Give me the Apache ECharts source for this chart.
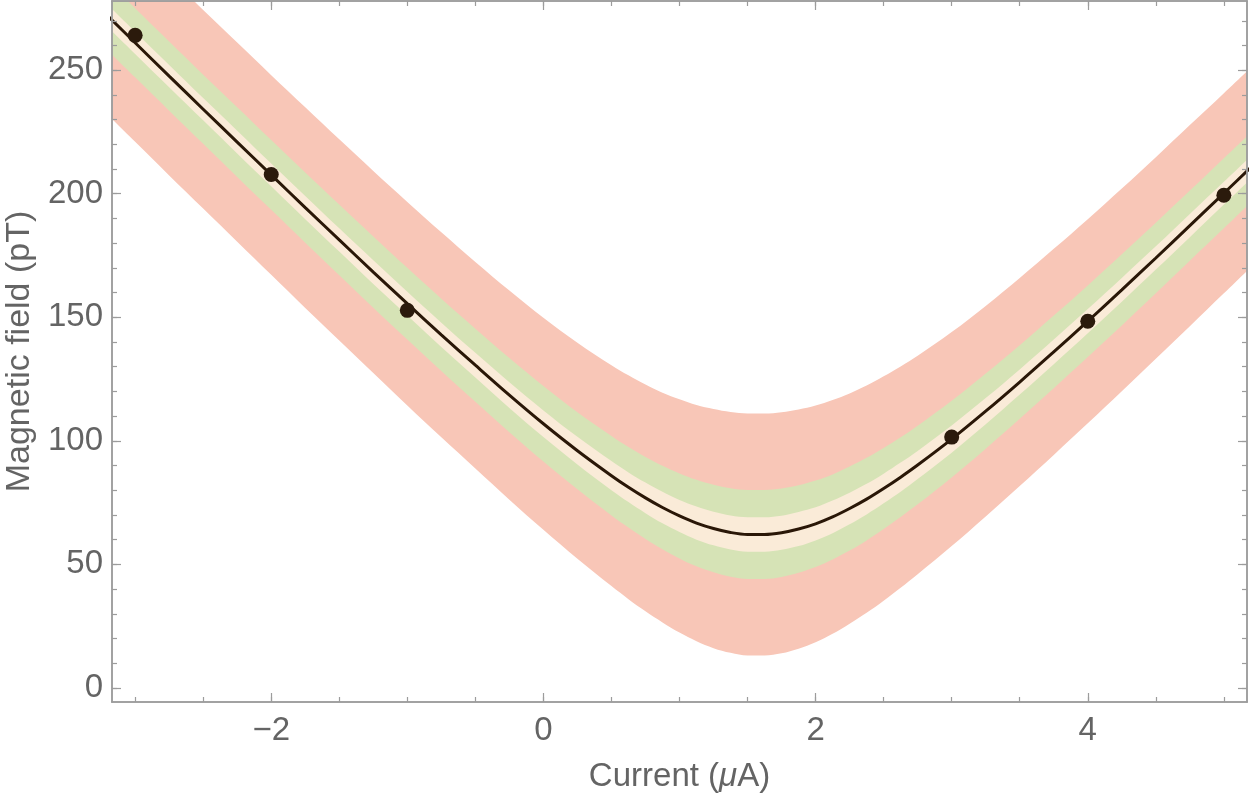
<!DOCTYPE html>
<html>
<head>
<meta charset="utf-8">
<script src="https://cdn.jsdelivr.net/npm/echarts@6/dist/echarts.min.js"></script>
<style>
  html, body { margin: 0; padding: 0; background: #fff; }
  #chart { width: 1250px; height: 798px; }
</style>
</head>
<body>
<div id="chart"></div>
<script>
// current grid the fitted curve and its bands are read at (uA), finer near the minimum
const current = [-3.25, -3, -2.75, -2.5, -2.25, -2, -1.75, -1.5, -1.25, -1, -0.75, -0.5, -0.25,
  0, 0.25, 0.5, 0.625, 0.75, 0.875, 1, 1.125, 1.25, 1.375, 1.5, 1.625, 1.75, 1.875, 2, 2.125, 2.25, 2.375, 2.5, 2.625, 2.75,
  3, 3.25, 3.5, 3.75, 4, 4.25, 4.5, 4.75, 5, 5.25]
// fitted field (pT)
const fitField = [274.6, 261.1, 247.6, 234.2, 220.9, 207.6, 194.4, 181.3, 168.3, 155.5, 142.9, 130.6, 118.5,
  106.9, 96.0, 85.9, 81.2, 76.9, 73.0, 69.6, 66.7, 64.5, 62.9, 62.1, 62.1, 62.8, 64.3, 66.4, 69.2, 72.6, 76.4, 80.7, 85.3, 90.2,
  100.7, 112.0, 123.8, 136.0, 148.4, 161.1, 174.0, 187.1, 200.2, 213.4]
// outer (pink) band
const pinkLow = [234.6, 221.0, 207.4, 194.0, 180.6, 167.2, 153.8, 140.6, 127.4, 114.3, 101.4, 88.8, 76.2,
  64.0, 52.3, 41.2, 35.9, 31.0, 26.5, 22.4, 18.9, 16.1, 14.2, 13.1, 13.1, 14.0, 15.9, 18.5, 21.9, 26.0, 30.4, 35.3, 40.5, 46.0,
  57.4, 69.4, 81.7, 94.3, 107.1, 120.1, 133.2, 146.4, 159.7, 173.0]
const pinkHigh = [314.6, 301.2, 287.8, 274.4, 261.2, 248.0, 235.0, 222.0, 209.2, 196.7, 184.4, 172.4, 160.8,
  149.8, 139.7, 130.6, 126.5, 122.8, 119.5, 116.8, 114.5, 112.9, 111.7, 111.1, 111.1, 111.6, 112.7, 114.3, 116.5, 119.2, 122.4, 126.1, 130.1, 134.4,
  144.0, 154.6, 165.9, 177.7, 189.7, 202.1, 214.8, 227.8, 240.7, 253.8]
// middle (green) band
const greenLow = [260.6, 247.1, 233.6, 220.2, 206.8, 193.5, 180.2, 167.0, 153.9, 141.0, 128.3, 115.8, 103.5,
  91.6, 80.4, 69.8, 64.9, 60.3, 56.1, 52.4, 49.2, 46.8, 45.0, 44.1, 44.1, 44.9, 46.6, 48.9, 52.0, 55.6, 59.7, 64.3, 69.2, 74.3,
  85.2, 96.8, 108.9, 121.3, 133.9, 146.7, 159.7, 172.9, 186.0, 199.3]
const greenHigh = [288.6, 275.1, 261.6, 248.2, 235.0, 221.7, 208.6, 195.6, 182.7, 170.0, 157.5, 145.4, 133.5,
  122.2, 111.6, 102.0, 97.5, 93.5, 89.9, 86.8, 84.2, 82.2, 80.8, 80.1, 80.1, 80.7, 82.0, 83.9, 86.4, 89.6, 93.1, 97.1, 101.4, 106.1,
  116.2, 127.2, 138.7, 150.7, 162.9, 175.5, 188.3, 201.3, 214.4, 227.5]
// inner (cream) band
const creamLow = [270.1, 256.6, 243.1, 229.7, 216.3, 203.0, 189.7, 176.6, 163.5, 150.7, 138.0, 125.6, 113.3,
  101.5, 90.4, 80.0, 75.2, 70.7, 66.6, 63.1, 60.0, 57.7, 56.0, 55.1, 55.1, 55.9, 57.4, 59.7, 62.6, 66.2, 70.2, 74.7, 79.4, 84.5,
  95.2, 106.7, 118.7, 131.0, 143.5, 156.3, 169.3, 182.4, 195.6, 208.8]
const creamHigh = [279.1, 265.6, 252.1, 238.7, 225.5, 212.2, 199.1, 186.0, 173.1, 160.3, 147.8, 135.6, 123.7,
  112.3, 101.6, 91.8, 87.2, 83.1, 79.4, 76.1, 73.4, 71.3, 69.8, 69.1, 69.1, 69.7, 71.2, 73.1, 75.8, 79.0, 82.6, 86.7, 91.2, 95.9,
  106.2, 117.3, 128.9, 141.0, 153.3, 165.9, 178.7, 191.8, 204.8, 218.0]
// measured points
const pointCurrent = [-3, -2, -1, 3, 4, 5]
const pointField = [264.1, 207.8, 152.8, 101.5, 148.4, 199.4]
// ticks
const xMajorTicks = [-2, 0, 2, 4]
const xMinorTicks = [-3, -2.5, -2, -1.5, -1, -0.5, 0, 0.5, 1, 1.5, 2, 2.5, 3, 3.5, 4, 4.5, 5]
const yMajorTicks = [0, 50, 100, 150, 200, 250]
const yMinorTicks = [0, 10, 20, 30, 40, 50, 60, 70, 80, 90, 100, 110, 120, 130, 140, 150, 160, 170, 180, 190, 200, 210, 220, 230, 240, 250, 260, 270]

const FONT = 'Liberation Sans'
const GRAY = '#9c9c9c'
const TEXT = '#646464'
const PINK = '#F8C6B7'
const GREEN = '#D6E3B6'
const CREAM = '#FAEBD8'
const SMOOTH = 0.35

const pairs = (ys) => current.map((x, i) => [x, ys[i]])

// each edge fills down to the axis bottom; painted top edge first so the
// layers leave pink / green / cream / green / pink / white from top to bottom
function edge (name, ys, color) {
  return {
    name: name, type: 'line', data: pairs(ys), z: 2,
    smooth: SMOOTH, symbol: 'none', silent: true,
    lineStyle: { width: 0, opacity: 0 },
    areaStyle: { color: color, opacity: 1, origin: 'start' }
  }
}

function xAxis (position, ticks, len, labels, extra) {
  return Object.assign({
    type: 'value', position: position, min: -3.17, max: 5.17, z: 10,
    axisLine: { show: true, onZero: false, lineStyle: { color: GRAY, width: 1.5 } },
    axisTick: { show: true, inside: true, length: len, customValues: ticks, lineStyle: { color: GRAY, width: 1.2 } },
    axisLabel: labels ? {
      show: true, customValues: xMajorTicks, margin: 12, color: TEXT, fontSize: 33, fontFamily: FONT,
      formatter: v => String(v).replace('-', '\u2212')
    } : { show: false },
    splitLine: { show: false }
  }, extra || {})
}

function yAxis (position, ticks, len, labels, extra) {
  return Object.assign({
    type: 'value', position: position, min: -5.7, max: 278, z: 10,
    axisLine: { show: true, onZero: false, lineStyle: { color: GRAY, width: 1.5 } },
    axisTick: { show: true, inside: true, length: len, customValues: ticks, lineStyle: { color: GRAY, width: 1.2 } },
    axisLabel: labels ? {
      show: true, customValues: yMajorTicks, margin: 9, color: TEXT, fontSize: 33, fontFamily: FONT
    } : { show: false },
    splitLine: { show: false }
  }, extra || {})
}

const chart = echarts.init(document.getElementById('chart'), null, { renderer: 'canvas' })
chart.setOption({
  animation: false,
  backgroundColor: '#fff',
  grid: { left: 112, right: 3, top: 1, bottom: 96, containLabel: false, outerBoundsMode: 'none' },
  xAxis: [
    xAxis('bottom', xMajorTicks, 9, true, {
      name: 'Current ({i|μ}A)', nameLocation: 'middle', nameGap: 58,
      nameTextStyle: {
        color: TEXT, fontSize: 33, fontFamily: FONT,
        rich: { i: { fontStyle: 'italic', color: TEXT, fontSize: 33, fontFamily: FONT } }
      }
    }),
    xAxis('bottom', xMinorTicks, 5, false),
    xAxis('top', xMajorTicks, 9, false),
    xAxis('top', xMinorTicks, 5, false)
  ],
  yAxis: [
    yAxis('left', yMajorTicks, 9, true, {
      name: 'Magnetic field (pT)', nameLocation: 'middle', nameGap: 66,
      nameTextStyle: { color: TEXT, fontSize: 34, fontFamily: FONT }
    }),
    yAxis('left', yMinorTicks, 5, false),
    yAxis('right', yMajorTicks, 9, false),
    yAxis('right', yMinorTicks, 5, false)
  ],
  series: [
    edge('pinkHigh', pinkHigh, PINK),
    edge('greenHigh', greenHigh, GREEN),
    edge('creamHigh', creamHigh, CREAM),
    edge('creamLow', creamLow, GREEN),
    edge('greenLow', greenLow, PINK),
    edge('pinkLow', pinkLow, '#ffffff'),
    {
      name: 'fit', type: 'line', data: pairs(fitField), z: 4,
      smooth: SMOOTH, symbol: 'none', silent: true,
      lineStyle: { color: '#2A1707', width: 3 }
    },
    {
      name: 'data', type: 'scatter', data: pointCurrent.map((x, i) => [x, pointField[i]]), z: 5,
      symbol: 'circle', symbolSize: 15, silent: true,
      itemStyle: { color: '#2B1A0C', opacity: 1 }
    }
  ]
})
</script>
</body>
</html>
